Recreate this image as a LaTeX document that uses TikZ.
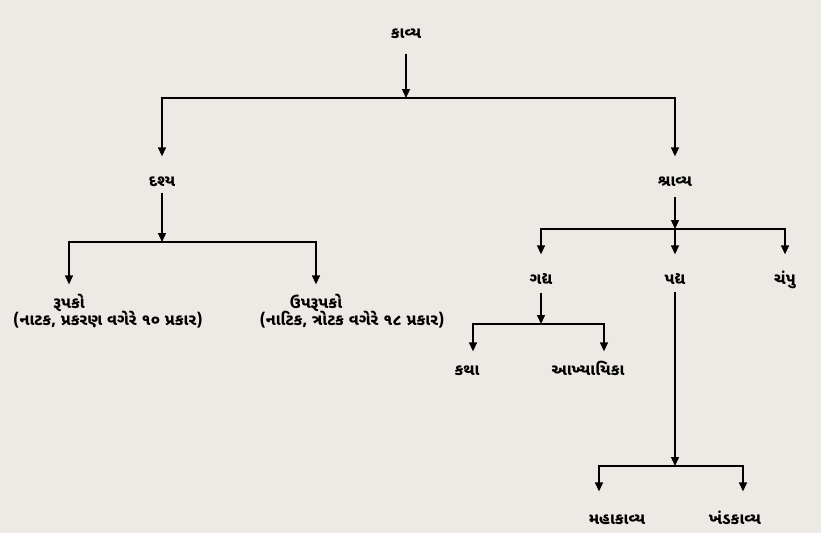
\documentclass[tikz,border=0pt]{standalone}
\usepackage{fontspec}
\newfontfamily\gujfont[Script=Gujarati]{Noto Sans Gujarati UI}
\usetikzlibrary{positioning}
\usetikzlibrary{arrows.meta}
\definecolor{paper}{RGB}{237,234,230}
\tikzset{kavtree/.style={x=1pt, y=-1pt, line width=1.3pt,
  every node/.style={font=\gujfont\bfseries\fontsize{16}{18}\selectfont,
    inner sep=0pt, text height=9pt, text depth=3pt}},
  arr/.style={-{Triangle[length=9pt,width=8pt]}}}

\begin{document}
\begin{tikzpicture}[kavtree]
	\fill[paper] (0,0) rectangle (821,533);
	\useasboundingbox (0,0) rectangle (821,533);
	\node (kavya) at (406,35) {કાવ્ય};
	\coordinate (kj) at (406,98);
	\node (drishya) at (162,183) {દશ્ય};
	\node (shravya) at (675,183) {શ્રાવ્ય};
	\coordinate (dj) at (162,242);
	\node (rupako) at (69,305) {રૂપકો};
	\node (rupakonote) at (108,322) {(નાટક, પ્રકરણ વગેરે ૧૦ પ્રકાર)};
	\node (uprupako) at (316,305) {ઉપરૂપકો};
	\node (uprupakonote) at (352,322) {(નાટિક, ત્રોટક વગેરે ૧૮ પ્રકાર)};
	\coordinate (sj) at (675,229);
	\node (gadya) at (541,281) {ગદ્ય};
	\node (padya) at (675,281) {પદ્ય};
	\node (champu) at (785,281) {ચંપુ};
	\coordinate (gj) at (541,324);
	\node (katha) at (467,372) {કથા};
	\node (akhyayika) at (588,372) {આખ્યાયિકા};
	\coordinate (pj) at (675,466);
	\node (maha) at (617,521) {મહાકાવ્ય};
	\node (khanda) at (735,521) {ખંડકાવ્ય};
	\draw[arr, shorten <=12pt] (kavya) -- (kj);
	\draw[arr, shorten >=20pt] (kj) -| (drishya);
	\draw[arr, shorten >=20pt] (kj) -| (shravya);
	\draw[arr, shorten <=3pt] (drishya) -- (dj);
	\draw[arr, shorten >=14pt] (dj) -| (rupako);
	\draw[arr, shorten >=14pt] (dj) -| (uprupako);
	\draw[arr, shorten <=7pt] (shravya) -- (sj);
	\draw[arr, shorten >=20pt] (sj) -| (gadya);
	\draw[arr, shorten >=20pt] (sj) -- (padya);
	\draw[arr, shorten >=20pt] (sj) -| (champu);
	\draw[arr, shorten <=5pt] (gadya) -- (gj);
	\draw[arr, shorten >=14pt] (gj) -| ([xshift=6pt]katha.north);
	\draw[arr, shorten >=14pt] (gj) -| ([xshift=16pt]akhyayika.north);
	\draw[arr, shorten <=4pt] (padya) -- (pj);
	\draw[arr, shorten >=23pt] (pj) -| ([xshift=-18pt]maha.north);
	\draw[arr, shorten >=23pt] (pj) -| ([xshift=8pt]khanda.north);
\end{tikzpicture}
\end{document}
